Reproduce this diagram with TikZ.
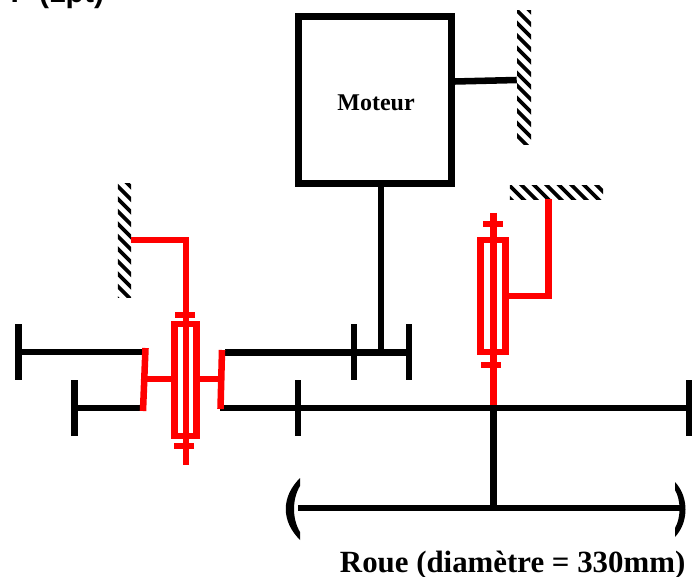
\documentclass[tikz,border=0pt]{standalone}
\usepackage{fontspec}
\setmainfont{Liberation Serif}
\setsansfont{Liberation Sans}
\begin{document}
\begin{tikzpicture}[x=0.75pt,y=-0.75pt,line join=miter]
\tikzstyle{bar}=[line width=4.9pt]
\tikzstyle{redbar}=[line width=4.9pt,red]
\tikzstyle{bearing}=[draw=red,line width=5.2pt,minimum width=17pt,minimum height=84pt,inner sep=0pt]
\tikzstyle{hatch}=[inner sep=0pt,path picture={
  \foreach \s in {-240,-227.5,...,240}
    \draw[line width=2.7pt] (path picture bounding box.center) ++(\s-100,-100) -- ++(200,200);
}]
\clip (0,0) rectangle (692,577);
\node[anchor=base west,font=\sffamily\bfseries\fontsize{22.5}{24}\selectfont](head) at (6,3) {P (1pt)};
% moteur + bati
\node[draw,line width=5.2pt,minimum width=114.5pt,minimum height=125pt,inner sep=0pt](mot) at (375,100) {};
\node[font=\bfseries\fontsize{18}{20}\selectfont](mottxt) at (376,103) {Moteur};
\node[hatch,minimum width=10.5pt,minimum height=101pt](w1) at (524,77.5) {};
\node[hatch,minimum width=10pt,minimum height=85pt](w2) at (124.5,240.5) {};
\node[hatch,minimum width=70pt,minimum height=10pt](w3) at (556.5,192.5) {};
\draw[bar] (mot.east |- 0,81.5) -- (w1.west |- 0,80);
% arbres noirs
\coordinate (c1) at (381,352.5);
\draw[bar] (mot.south -| c1) -- (c1);
\draw[bar] (18.5,324) -- (18.5,380);
\draw[bar] (74.5,380) -- (74.5,436);
\draw[bar] (18.5,352) -- (145,352);
\draw[bar] (74.5,408) -- (143,408);
\draw[bar] (225,352.5) -- (409,352.5);
\draw[bar] (354,324) -- (354,380);
\draw[bar] (409,324) -- (409,380);
\draw[bar] (220,408) -- (689,408);
\draw[bar] (298,380) -- (298,436);
\draw[bar] (689,380) -- (689,436);
% roue
\coordinate (r1) at (493.5,508);
\draw[bar] (298,508) -- (680,508);
\draw[bar] (493.5,408) -- (r1);
\fill (300,478) .. controls (281,497) and (281,521) .. (300,540) -- (300,532) .. controls (292,519) and (292,499) .. (300,486) -- cycle;
\fill (675,482) .. controls (689,497) and (689,522) .. (675,537) -- (675,528) .. controls (681,518) and (681,500) .. (675,490) -- cycle;
% palier gauche
\node[bearing](b1) at (185.5,380) {};
\draw[redbar] (w2.east |- 0,240) -| (186,465);
\draw[redbar] (175,315) -- (195,315);
\draw[redbar] (174,446) -- (194,446);
\draw[redbar] (145.5,348) -- (143,411);
\draw[redbar] (222,350) -- (220.5,409);
\draw[redbar] (144,379) -- (b1.west |- 0,379);
\draw[redbar] (b1.east |- 0,379) -- (221,379);
% palier droit
\node[bearing,minimum width=19pt](b2) at (493,296) {};
\draw[redbar] (493.5,213) -- (493.5,405);
\draw[redbar] (483,224) -- (503,224);
\draw[redbar] (481,365) -- (501,365);
\draw[redbar] (w3.south -| 548.5,0) |- (b2.east |- 0,296);
\node[anchor=base east,font=\bfseries\fontsize{23.15}{25}\selectfont](roue) at (690,572) {Roue (diamètre = 330mm)};
\end{tikzpicture}
\end{document}
